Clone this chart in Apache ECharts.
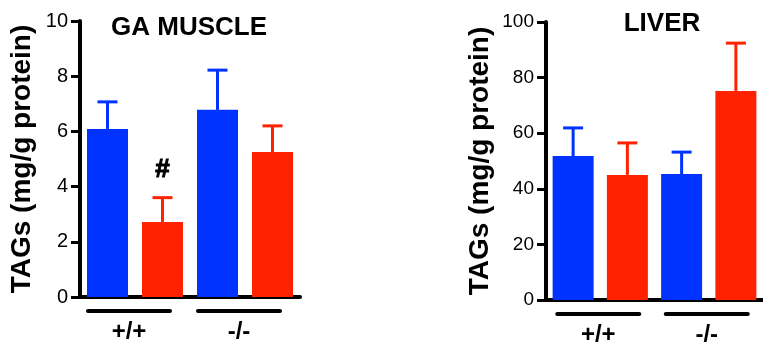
<!DOCTYPE html>
<html>
<head>
<meta charset="utf-8">
<script src="https://cdn.jsdelivr.net/npm/echarts@6/dist/echarts.min.js"></script>
<style>
html,body{margin:0;padding:0;background:#fff;}
#c{width:763px;height:349px;}
</style>
</head>
<body>
<div id="c"></div>
<script>
// ---- data ----
const categories = ['+/+ A', '+/+ B', '-/- A', '-/- B'];
const groupLabels = ['+/+', '-/-'];
const muscleMeans = [6.09, 2.72, 6.78, 5.25];
const muscleErrTop = [7.07, 3.60, 8.22, 6.20];
const muscleSig = ['', '#', '', ''];
const liverMeans = [51.8, 45.0, 45.3, 75.2];
const liverErrTop = [61.9, 56.5, 53.2, 92.4];
const liverSig = ['', '', '', ''];
const muscleTicks = { min: 0, max: 10, interval: 2 };
const liverTicks = { min: 0, max: 100, interval: 20 };
const titles = ['GA MUSCLE', 'LIVER'];
const yName = 'TAGs (mg/g protein)';

// ---- style ----
const BLUE = '#0033ff';
const RED = '#ff2200';
const barColors = [BLUE, RED, BLUE, RED];
const FONT = '"Liberation Sans", Arial, Helvetica, sans-serif';

const chart = echarts.init(document.getElementById('c'), null, { renderer: 'canvas' });

const panels = [
  { grid: { left: 80, top: 21, width: 220, height: 276 }, ticks: muscleTicks, means: muscleMeans, err: muscleErrTop, sig: muscleSig, nameGap: 44, labelFont: 20, shift: -6, titleX: 184, titleY: 10 },
  { grid: { left: 546, top: 22, width: 224, height: 278 }, ticks: liverTicks, means: liverMeans, err: liverErrTop, sig: liverSig, nameGap: 52, labelFont: 19, shift: -2, titleX: 657, titleY: 6 }
];

const grid = [], xAxis = [], yAxis = [], series = [], title = [];
panels.forEach((p, k) => {
  grid.push(Object.assign({ containLabel: false }, p.grid));
  title.push({ text: titles[k], left: p.titleX, top: p.titleY, textAlign: 'center',
    textStyle: { fontFamily: FONT, fontWeight: 'bold', fontSize: 26, color: '#000' } });
  // main category axis
  xAxis.push({ type: 'category', gridIndex: k, data: categories, boundaryGap: true,
    axisLine: { lineStyle: { color: '#000', width: 4 } },
    axisTick: { show: false }, axisLabel: { show: false }, splitLine: { show: false } });
  // group axis
  xAxis.push({ type: 'category', gridIndex: k, data: groupLabels, position: 'bottom', boundaryGap: true,
    axisLine: { show: false }, axisTick: { show: false }, splitLine: { show: false },
    axisLabel: { show: true, margin: 23, fontFamily: FONT, fontWeight: 'bold', fontSize: 24, color: '#000',
      padding: [0, -2 * p.shift, 0, 0] } });
  yAxis.push({ type: 'value', gridIndex: k, min: p.ticks.min, max: p.ticks.max, interval: p.ticks.interval,
    name: yName, nameLocation: 'middle', nameGap: p.nameGap,
    nameTextStyle: { fontFamily: FONT, fontWeight: 'bold', fontSize: 28, color: '#000' },
    axisLine: { show: true, lineStyle: { color: '#000', width: 4 } },
    axisTick: { show: true, length: 9, lineStyle: { color: '#000', width: 3 } },
    axisLabel: { fontFamily: FONT, fontSize: p.labelFont, color: '#000', margin: 12 },
    splitLine: { show: false } });
  const xi = k * 2;
  series.push({ type: 'bar', xAxisIndex: xi, yAxisIndex: k, barWidth: 41,
    data: p.means.map((v, i) => ({ value: v, itemStyle: { color: barColors[i] } })),
    z: 2 });
  series.push({ type: 'custom', xAxisIndex: xi, yAxisIndex: k, z: 3, clip: false,
    data: p.means.map((v, i) => [i, v, p.err[i]]),
    renderItem: function (params, api) {
      const i = api.value(0);
      const b = api.coord([i, api.value(1)]);
      const t = api.coord([i, api.value(2)]);
      const col = barColors[i];
      const children = [
        { type: 'line', shape: { x1: b[0], y1: b[1], x2: t[0], y2: t[1] }, style: { stroke: col, lineWidth: 3 } },
        { type: 'line', shape: { x1: t[0] - 10, y1: t[1], x2: t[0] + 10, y2: t[1] }, style: { stroke: col, lineWidth: 3 } }
      ];
      const s = p.sig[i];
      if (s) {
        children.push({ type: 'text', style: { text: s, x: t[0], y: t[1] - 15, align: 'center', verticalAlign: 'bottom',
          font: 'bold 26px "Liberation Sans", Arial, sans-serif', fill: '#000', stroke: '#000', lineWidth: 1 } });
      }
      return { type: 'group', children: children };
    } });
  // group underlines
  series.push({ type: 'custom', xAxisIndex: xi + 1, yAxisIndex: k, z: 3, clip: false,
    data: groupLabels.map((g, i) => [i, p.ticks.min]),
    renderItem: function (params, api) {
      const c = api.coord([api.value(0), api.value(1)]);
      return { type: 'line', shape: { x1: c[0] - 41 + p.shift, y1: c[1] + 14, x2: c[0] + 41 + p.shift, y2: c[1] + 14 },
        style: { stroke: '#000', lineWidth: 4, lineCap: 'round' } };
    } });
});

chart.setOption({ animation: false, backgroundColor: '#fff', title, grid, xAxis, yAxis, series });
</script>
</body>
</html>
